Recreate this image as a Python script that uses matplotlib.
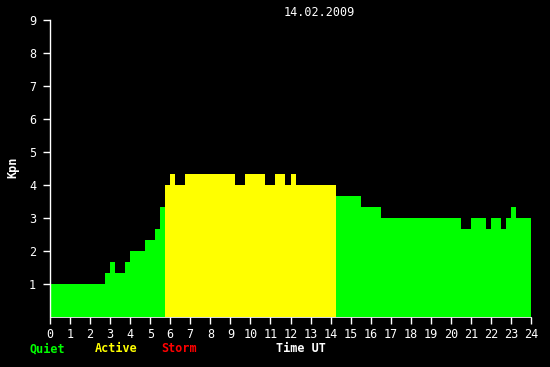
import matplotlib
matplotlib.use("Agg")
import matplotlib.pyplot as plt
import numpy as np

# Kp steps for 14.02.2009: start hour, end hour, value
t_start = [0.0, 2.75, 3.0, 3.25, 3.75, 4.0, 4.75, 5.25, 5.5, 5.75,
           6.0, 6.25, 6.75, 9.25, 9.75, 10.75, 11.25, 11.75, 12.0, 12.25,
           14.25, 15.5, 16.5, 20.5, 21.0, 21.75, 22.0, 22.5, 22.75, 23.0, 23.25]
t_end = t_start[1:] + [24.0]
kp = [1.0, 1.33, 1.67, 1.33, 1.67, 2.0, 2.33, 2.67, 3.33, 4.0,
      4.33, 4.0, 4.33, 4.0, 4.33, 4.0, 4.33, 4.0, 4.33, 4.0,
      3.67, 3.33, 3.0, 2.67, 3.0, 2.67, 3.0, 2.67, 3.0, 3.33, 3.0]

hour_labels = [str(h) for h in range(25)]
kp_labels = [str(k) for k in range(1, 10)]
date_text = "14.02.2009"

plt.rcParams['font.family'] = ['DejaVu Sans Mono']

GREEN = '#00ff00'
YELLOW = '#ffff00'
RED = '#ff0000'


def kp_color(v):
    if v >= 5:
        return RED
    if v >= 4:
        return YELLOW
    return GREEN


fig = plt.figure(figsize=(5.5, 3.67), dpi=100, facecolor='black')
ax = fig.add_axes([50 / 550, 50 / 367, 481 / 550, 297 / 367], facecolor='black')

widths = np.array(t_end) - np.array(t_start)
ax.bar(t_start, kp, width=widths, align='edge',
       color=[kp_color(v) for v in kp], linewidth=0)

ax.set_xlim(0, 24)
ax.set_ylim(0, 9)

for s in ['top', 'right']:
    ax.spines[s].set_visible(False)
ax.spines['left'].set_color('white')
ax.spines['bottom'].set_color('white')
ax.spines['left'].set_linewidth(1)
ax.spines['bottom'].set_linewidth(0.6)

ax.set_xticks(range(25))
ax.set_xticklabels(hour_labels)
ax.set_xticks(np.arange(0, 24.01, 1 / 6), minor=True)
ax.set_yticks(range(1, 10))
ax.set_yticklabels(kp_labels)
ax.set_yticks(np.arange(0, 9.01, 1 / 3), minor=True)

ax.tick_params(colors='white', labelsize=8.5, width=1)
ax.tick_params(axis='x', which='major', length=5, pad=3)
ax.tick_params(axis='x', which='minor', length=3, width=1)
ax.tick_params(axis='y', which='major', length=5, pad=5)
ax.tick_params(axis='y', which='minor', length=3, width=1)

fig.text(13 / 550, 1 - 167 / 367, 'Kpn', color='white', rotation=90,
         fontsize=8.5, fontweight='bold', ha='center', va='center')
fig.text(319 / 550, 1 - 12 / 367, date_text, color='white', fontsize=8.5,
         ha='center', va='center')

fig.text(29 / 550, 1 - 349 / 367, 'Quiet', color=GREEN, fontsize=8.5,
         fontweight='bold', ha='left', va='center')
fig.text(95 / 550, 1 - 349 / 367, 'Active', color=YELLOW, fontsize=8.5,
         fontweight='bold', ha='left', va='center')
fig.text(161 / 550, 1 - 349 / 367, 'Storm', color=RED, fontsize=8.5,
         fontweight='bold', ha='left', va='center')
fig.text(276 / 550, 1 - 349 / 367, 'Time UT', color='white', fontsize=8.5,
         fontweight='bold', ha='left', va='center')

fig.savefig('out.png', dpi=100, facecolor='black')
